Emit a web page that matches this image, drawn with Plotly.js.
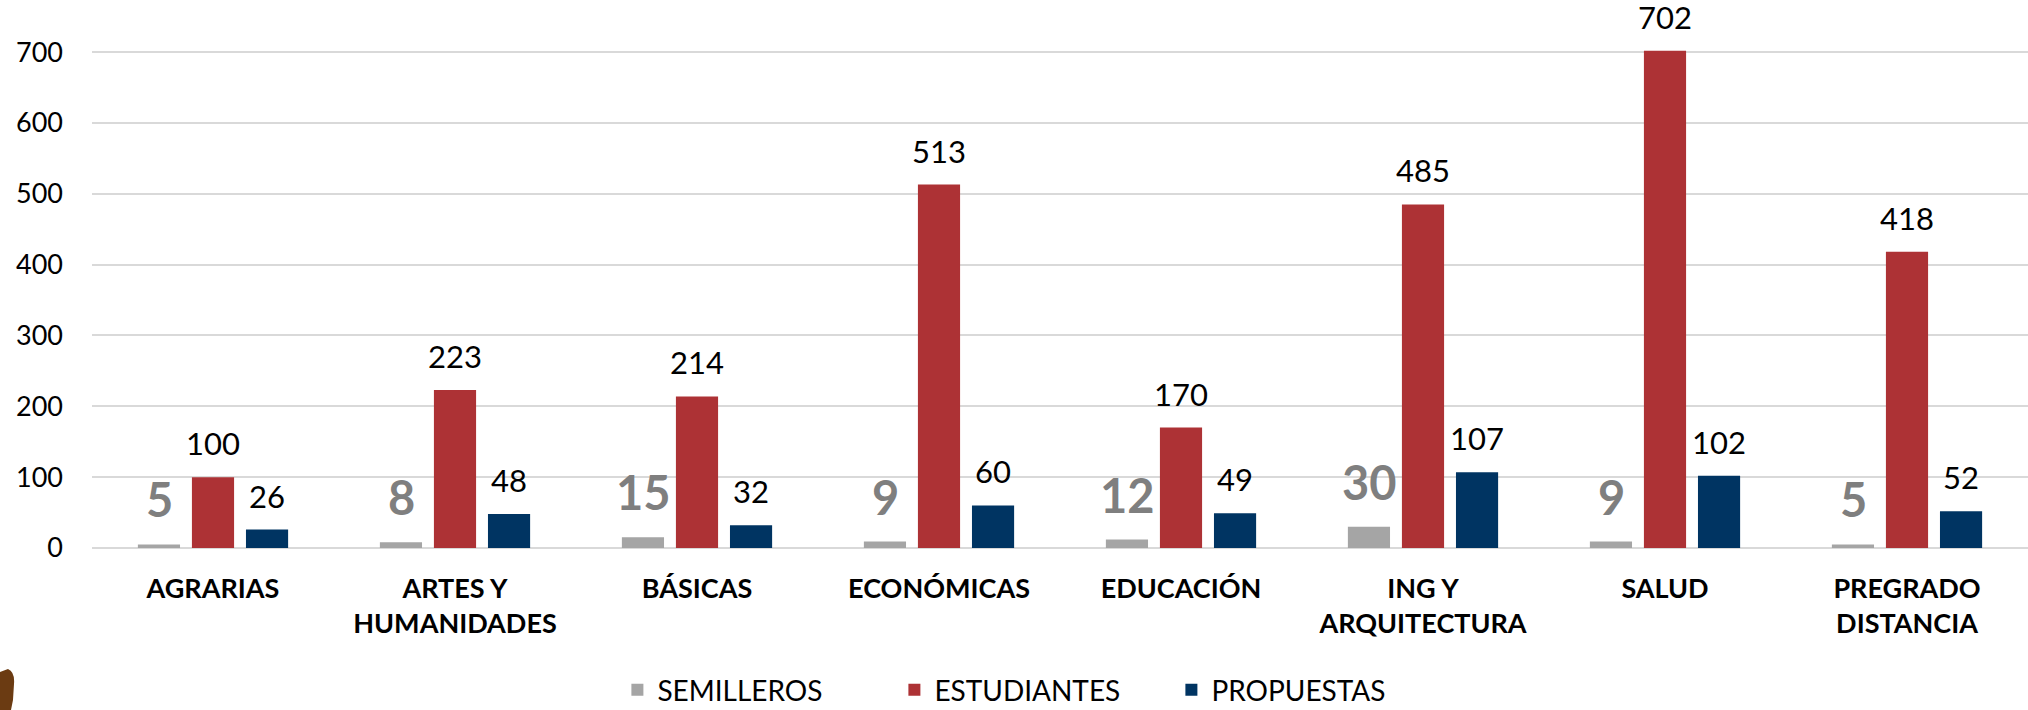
<!DOCTYPE html>
<html>
<head>
<meta charset="utf-8">
<script src="https://cdn.plot.ly/plotly-3.0.1.min.js"></script>
<style>
  html, body { margin: 0; padding: 0; background: #ffffff; }
  #chart { width: 2028px; height: 710px; }
</style>
</head>
<body>
<div id="chart"></div>
<script>
const categories = ["AGRARIAS", "ARTES Y<br>HUMANIDADES", "BÁSICAS", "ECONÓMICAS", "EDUCACIÓN", "ING Y<br>ARQUITECTURA", "SALUD", "PREGRADO<br>DISTANCIA"];
const seriesNames = ["SEMILLEROS", "ESTUDIANTES", "PROPUESTAS"];
const semilleros = [5, 8, 15, 9, 12, 30, 9, 5];
const estudiantes = [100, 223, 214, 513, 170, 485, 702, 418];
const propuestas = [26, 48, 32, 60, 49, 107, 102, 52];
const yTicks = [0, 100, 200, 300, 400, 500, 600, 700];

const FONT = "Lato, 'Open Sans', sans-serif";
const colors = ["#A5A5A5", "#AD3235", "#003462"];
const seriesValues = [semilleros, estudiantes, propuestas];

const traces = seriesValues.map((vals, i) => ({
  type: "bar",
  name: seriesNames[i],
  x: categories,
  y: vals,
  marker: { color: colors[i], line: { width: 0 } },
  hoverinfo: "x+y+name"
}));

const labelStyle = [
  { size: 47, color: "#7F7F7F", weight: 700, shift: -54, yshift: 23, h: 40 },
  { size: 31, color: "#000000", weight: 400, shift: 0, yshift: 18, h: 28 },
  { size: 31, color: "#000000", weight: 400, shift: 54, yshift: 18, h: 28 }
];

const annotations = [];
seriesValues.forEach((vals, s) => {
  const st = labelStyle[s];
  vals.forEach((v, i) => {
    annotations.push({
      x: categories[i], y: v, xref: "x", yref: "y",
      text: String(v), showarrow: false,
      xanchor: "center", yanchor: "bottom",
      height: st.h, valign: "middle",
      xshift: st.shift, yshift: st.yshift,
      font: { family: FONT, size: st.size, color: st.color, weight: st.weight }
    });
  });
});

const PL = 92, PW = 1936, PB = 548, PH = 503;
const px = v => ((v - PL) / PW).toFixed(5);
const py = v => ((PB - v) / PH).toFixed(5);
const blobPath = `M ${px(0)},${py(672)} L ${px(8)},${py(669)} Q ${px(15)},${py(672)} ${px(14)},${py(684)} L ${px(13)},${py(700)} L ${px(11)},${py(710)} L ${px(0)},${py(710)} Z`;

const layout = {
  width: 2028,
  height: 710,
  margin: { l: PL, r: 0, t: 45, b: 162, pad: 0, autoexpand: false },
  paper_bgcolor: "#ffffff",
  plot_bgcolor: "#ffffff",
  font: { family: FONT, color: "#000000" },
  barmode: "group",
  bargap: 0.33,
  bargroupgap: 0.22,
  showlegend: true,
  legend: {
    orientation: "h",
    x: 0.486, xanchor: "center",
    y: -0.2823, yanchor: "middle",
    font: { family: FONT, size: 28, color: "#000000" },
    entrywidth: 232,
    entrywidthmode: "pixels",
    itemwidth: 30,
    traceorder: "normal"
  },
  xaxis: {
    type: "category",
    showgrid: false,
    showline: false,
    ticks: "",
    ticklabelstandoff: 22,
    tickfont: { family: FONT, size: 27, color: "#000000", weight: 700 },
    fixedrange: true
  },
  yaxis: {
    range: [0, 710],
    tickmode: "array",
    tickvals: yTicks,
    ticktext: yTicks.map(String),
    showgrid: true,
    gridcolor: "#D9D9D9",
    gridwidth: 2,
    zeroline: true,
    zerolinecolor: "#D9D9D9",
    zerolinewidth: 2,
    showline: false,
    ticks: "",
    ticklabelstandoff: 28,
    tickfont: { family: FONT, size: 27, color: "#000000" },
    fixedrange: true
  },
  annotations: annotations,
  shapes: [{
    type: "path", xref: "paper", yref: "paper",
    path: blobPath,
    fillcolor: "#6B3B12", line: { width: 0 }, layer: "above"
  }]
};

Plotly.newPlot("chart", traces, layout, { displayModeBar: false, staticPlot: true });
</script>
</body>
</html>
